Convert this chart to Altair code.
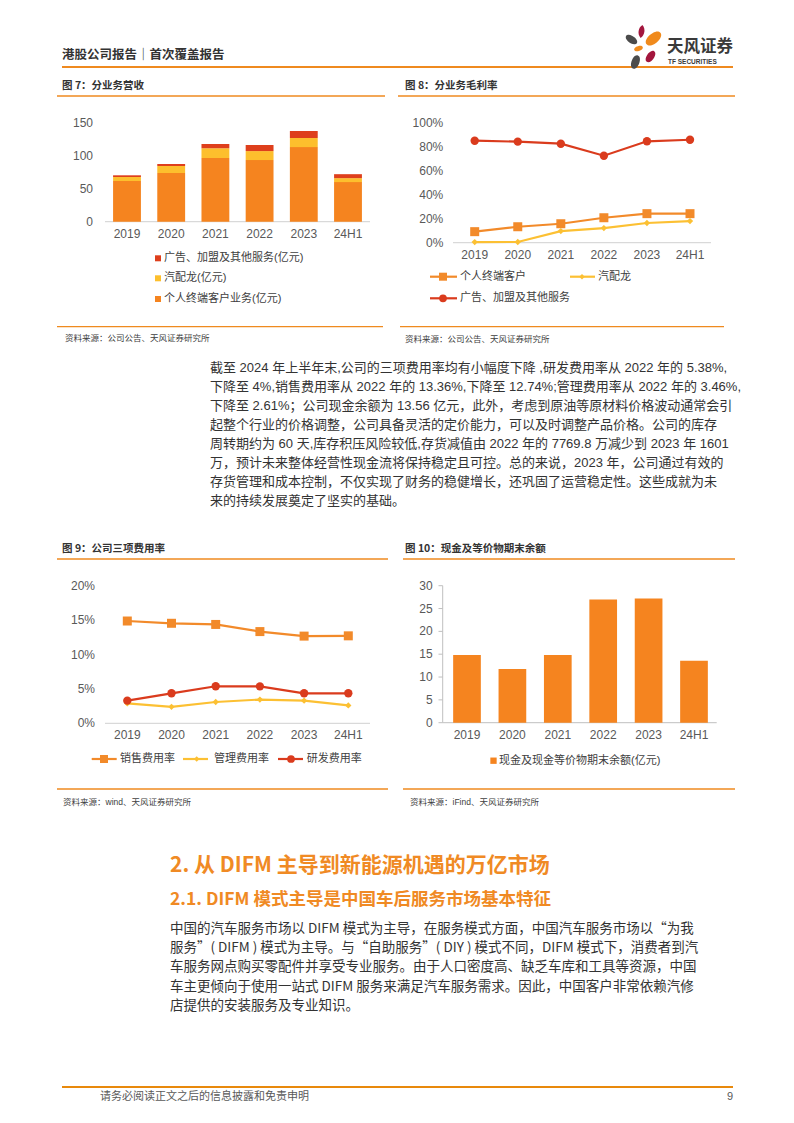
import altair as alt
import pandas as pd

# ---------------- data ----------------
years = ["2019", "2020", "2021", "2022", "2023", "24H1"]

# 图7 分业务营收 (亿元)
rev_names = ["个人终端客户业务(亿元)", "汽配龙(亿元)", "广告、加盟及其他服务(亿元)"]
rev_personal = [61.7, 73.8, 96.5, 93.4, 113.0, 60.0]
rev_qpl = [6.0, 10.6, 14.7, 13.6, 13.8, 6.0]
rev_ads = [2.6, 3.0, 6.5, 9.2, 10.6, 6.0]
rev_ticks = [0, 50, 100, 150]

# 图8 分业务毛利率 (%)
gm_names = ["个人终端客户", "汽配龙", "广告、加盟及其他服务"]
gm_personal = [9.2, 13.3, 15.8, 20.8, 24.2, 24.2]
gm_qpl = [0.5, 0.6, 9.7, 12.2, 16.4, 18.0]
gm_ads = [85.0, 84.2, 82.5, 72.5, 84.5, 85.8]
gm_ticks = [0, 20, 40, 60, 80, 100]

# 图9 公司三项费用率 (%)
exp_names = ["销售费用率", "管理费用率", "研发费用率"]
exp_sales = [14.9, 14.57, 14.4, 13.36, 12.7, 12.74]
exp_admin = [2.9, 2.4, 3.1, 3.46, 3.3, 2.61]
exp_rd = [3.3, 4.37, 5.4, 5.38, 4.37, 4.37]
exp_ticks = [0, 5, 10, 15, 20]

# 图10 现金及等价物期末余额 (亿元)
cash_name = "现金及现金等价物期末余额(亿元)"
cash = [14.8, 11.75, 14.8, 27.0, 27.2, 13.56]
cash_ticks = [0, 5, 10, 15, 20, 25, 30]

para1 = [
    "截至 2024 年上半年末,公司的三项费用率均有小幅度下降 ,研发费用率从 2022 年的 5.38%,",
    "下降至 4%,销售费用率从 2022 年的 13.36%,下降至 12.74%;管理费用率从 2022 年的 3.46%,",
    "下降至 2.61%；公司现金余额为 13.56 亿元，此外，考虑到原油等原材料价格波动通常会引",
    "起整个行业的价格调整，公司具备灵活的定价能力，可以及时调整产品价格。公司的库存",
    "周转期约为 60 天,库存积压风险较低,存货减值由 2022 年的 7769.8 万减少到 2023 年 1601",
    "万，预计未来整体经营性现金流将保持稳定且可控。总的来说，2023 年，公司通过有效的",
    "存货管理和成本控制，不仅实现了财务的稳健增长，还巩固了运营稳定性。这些成就为未",
    "来的持续发展奠定了坚实的基础。",
]
para2 = [
    "中国的汽车服务市场以 DIFM 模式为主导，在服务模式方面，中国汽车服务市场以“为我",
    "服务”( DIFM ) 模式为主导。与“自助服务”( DIY ) 模式不同，DIFM 模式下，消费者到汽",
    "车服务网点购买零配件并享受专业服务。由于人口密度高、缺乏车库和工具等资源，中国",
    "车主更倾向于使用一站式 DIFM 服务来满足汽车服务需求。因此，中国客户非常依赖汽修",
    "店提供的安装服务及专业知识。",
]

# ---------------- styles ----------------
M = 8  # page margin


def px(v):
    return v - M


FONT = "Liberation Sans, Noto Sans CJK SC, sans-serif"
CJK = "Noto Sans CJK SC, sans-serif"
ORANGE = "#F5841F"
YELLOW = "#FDBF2D"
RED = "#DE3F1C"
LORANGE = "#F28A2A"
LYELLOW = "#FCC033"
LRED = "#DA3B1D"
RULE = "#EF8A1F"
AXC = "#595959"
GRID = "#D9D9D9"
TXT = "#333333"
DUMMY = pd.DataFrame({"d": [0]})


def text(x, y, s, size=12, color=TXT, weight="normal", align="left",
         baseline="middle", font=FONT, lineHeight=None):
    kw = dict(text=s, fontSize=size, color=color, fontWeight=weight, align=align,
              baseline=baseline, font=font)
    if lineHeight is not None:
        kw["lineHeight"] = lineHeight
    return alt.Chart(DUMMY).mark_text(**kw).encode(x=alt.value(px(x)), y=alt.value(px(y)))


def hline(x1, x2, y, color, width=1.0):
    return alt.Chart(DUMMY).mark_rule(color=color, strokeWidth=width).encode(
        x=alt.value(px(x1)), x2=alt.value(px(x2)), y=alt.value(px(y)))


def vline(x, y1, y2, color, width=1.0):
    return alt.Chart(DUMMY).mark_rule(color=color, strokeWidth=width).encode(
        x=alt.value(px(x)), y=alt.value(px(y1)), y2=alt.value(px(y2)))


def marker(x, y, shape, size, color):
    return alt.Chart(DUMMY).mark_point(shape=shape, size=size, filled=True, color=color,
                                       opacity=1).encode(x=alt.value(px(x)), y=alt.value(px(y)))


def leaf(x, y, length, angle, color, wide=False):
    path = ("M0,-1C0.75,-1,0.75,1,0,1C-0.75,1,-0.75,-1,0,-1Z" if wide
            else "M0,-1C0.6,-0.5,0.6,0.5,0,1C-0.6,0.5,-0.6,-0.5,0,-1Z")
    return alt.Chart(DUMMY).mark_point(shape=path, size=length * length, filled=True,
                                       color=color, opacity=1, angle=angle % 360).encode(
        x=alt.value(px(x)), y=alt.value(px(y)))


def ylabels(ticks, labels, ysc, xright):
    d = pd.DataFrame({"v": ticks, "label": labels})
    return alt.Chart(d).mark_text(align="right", baseline="middle", fontSize=12,
                                  color=AXC, font=FONT).encode(
        x=alt.value(px(xright)), y=alt.Y("v:Q", scale=ysc, axis=None), text="label:N")


def xlabels(xsc, y):
    d = pd.DataFrame({"year": years})
    return alt.Chart(d).mark_text(align="center", baseline="middle", fontSize=12,
                                  color=AXC, font=FONT).encode(
        x=alt.X("year:N", scale=xsc, axis=None, bandPosition=0.5),
        y=alt.value(px(y)), text="year:N")


def line_series(values, xsc, ysc, color, shape, size):
    d = pd.DataFrame({"year": years, "value": values})
    base = alt.Chart(d).encode(x=alt.X("year:N", scale=xsc, axis=None),
                               y=alt.Y("value:Q", scale=ysc, axis=None))
    return (base.mark_line(color=color, strokeWidth=2.2)
            + base.mark_point(shape=shape, filled=True, size=size, color=color, opacity=1))


# ---------------- 图7 ----------------
sc7x = alt.Scale(type="band", domain=years, range=[px(104.9), px(370.1)],
                 paddingInner=0.37, paddingOuter=0.185)
sc7y = alt.Scale(domain=[0, 150], range=[px(221.7), px(122.7)], nice=False)
df7 = pd.DataFrame({
    "year": years * 3,
    "series": [rev_names[0]] * 6 + [rev_names[1]] * 6 + [rev_names[2]] * 6,
    "value": rev_personal + rev_qpl + rev_ads,
    "ord": [0] * 6 + [1] * 6 + [2] * 6,
})
bars7 = alt.Chart(df7).mark_bar().encode(
    x=alt.X("year:N", scale=sc7x, axis=None),
    y=alt.Y("value:Q", scale=sc7y, axis=None, stack="zero"),
    color=alt.Color("series:N", scale=alt.Scale(domain=rev_names, range=[ORANGE, YELLOW, RED]),
                    legend=None),
    order=alt.Order("ord:Q", sort="ascending"),
)
chart7 = alt.layer(
    hline(105, 370, 221.7, GRID, 1.2),
    bars7,
    ylabels(rev_ticks, [str(t) for t in rev_ticks], sc7y, 93),
    xlabels(sc7x, 234),
    marker(158, 258.3, "square", 36, RED),
    text(164, 258.3, rev_names[2], size=11, color="#404040"),
    marker(158, 278.3, "square", 36, YELLOW),
    text(164, 278.3, rev_names[1], size=11, color="#404040"),
    marker(158, 299, "square", 36, ORANGE),
    text(164, 299, rev_names[0], size=11, color="#404040"),
)

# ---------------- 图8 ----------------
sc8x = alt.Scale(type="point", domain=years, range=[px(474.7), px(690)], padding=0)
sc8y = alt.Scale(domain=[0, 100], range=[px(242.7), px(122.7)], nice=False)
chart8 = alt.layer(
    hline(453, 711, 242.7, GRID, 1.2),
    ylabels(gm_ticks, [f"{t}%" for t in gm_ticks], sc8y, 443.3),
    xlabels(sc8x, 255),
    line_series(gm_personal, sc8x, sc8y, LORANGE, "square", 81),
    line_series(gm_qpl, sc8x, sc8y, LYELLOW, "diamond", 40),
    line_series(gm_ads, sc8x, sc8y, LRED, "circle", 70),
    hline(430, 457, 276.7, LORANGE, 2.2),
    marker(443, 276.7, "square", 64, LORANGE),
    text(460, 276.7, gm_names[0], size=11, color="#404040"),
    hline(570, 595, 276.7, LYELLOW, 2.2),
    marker(582, 276.7, "diamond", 30, LYELLOW),
    text(598, 276.7, gm_names[1], size=11, color="#404040"),
    hline(430, 457, 298.3, LRED, 2.2),
    marker(443, 298.3, "circle", 60, LRED),
    text(460, 298.3, gm_names[2], size=11, color="#404040"),
)

# ---------------- 图9 ----------------
sc9x = alt.Scale(type="point", domain=years, range=[px(127.3), px(348.3)], padding=0)
sc9y = alt.Scale(domain=[0, 20], range=[px(723.3), px(586)], nice=False)
chart9 = alt.layer(
    hline(105, 370, 723.3, GRID, 1.2),
    ylabels(exp_ticks, [f"{t}%" for t in exp_ticks], sc9y, 95),
    xlabels(sc9x, 735),
    line_series(exp_sales, sc9x, sc9y, LORANGE, "square", 81),
    line_series(exp_admin, sc9x, sc9y, LYELLOW, "diamond", 40),
    line_series(exp_rd, sc9x, sc9y, LRED, "circle", 70),
    hline(91.7, 116.7, 759, LORANGE, 2.2),
    marker(104, 759, "square", 64, LORANGE),
    text(120, 759, exp_names[0], size=11, color="#404040"),
    hline(183, 208, 759, LYELLOW, 2.2),
    marker(196.7, 759, "diamond", 30, LYELLOW),
    text(214, 759, exp_names[1], size=11, color="#404040"),
    hline(278, 303, 759, LRED, 2.2),
    marker(291, 759, "circle", 60, LRED),
    text(306.7, 759, exp_names[2], size=11, color="#404040"),
)

# ---------------- 图10 ----------------
sc10x = alt.Scale(type="band", domain=years, range=[px(444.3), px(716.7)],
                  paddingInner=0.39, paddingOuter=0.195)
sc10y = alt.Scale(domain=[0, 30], range=[px(722.7), px(585.7)], nice=False)
df10 = pd.DataFrame({"year": years, "value": cash})
tick10 = pd.DataFrame({"v": cash_ticks})
chart10 = alt.layer(
    alt.Chart(tick10).mark_rule(color="#BFBFBF", strokeWidth=1).encode(
        x=alt.value(px(438.5)), x2=alt.value(px(442.7)),
        y=alt.Y("v:Q", scale=sc10y, axis=None)),
    vline(442.7, 585.7, 722.7, "#BFBFBF", 1),
    hline(442.7, 716.7, 722.7, "#BFBFBF", 1),
    alt.Chart(df10).mark_bar(color=ORANGE).encode(
        x=alt.X("year:N", scale=sc10x, axis=None),
        y=alt.Y("value:Q", scale=sc10y, axis=None)),
    ylabels(cash_ticks, [str(t) for t in cash_ticks], sc10y, 432.7),
    xlabels(sc10x, 735),
    marker(493.5, 760.7, "square", 40, ORANGE),
    text(499, 760.7, cash_name, size=11, color="#404040"),
)

# ---------------- page decorations ----------------
deco = [
    # header
    text(62, 55, "港股公司报告｜首次覆盖报告", size=12.5, weight="bold", color=TXT, font=CJK),
    hline(62, 733, 67, RULE, 2.2),
    leaf(641.5, 31.5, 13, 8, "#A3163D"),
    leaf(653.5, 38.5, 18, 50, "#F08A1C", wide=True),
    leaf(631.5, 39.5, 13, -55, "#4B4B4B", wide=True),
    leaf(638.5, 48.5, 9, 70, "#F08A1C", wide=True),
    leaf(650.5, 56.5, 13, 35, "#A3163D", wide=True),
    leaf(635.5, 62, 14, 20, "#4B4B4B", wide=True),
    text(667, 47, "天风证券", size=16.5, weight="bold", color="#3A3A3A", font=CJK),
    text(668, 61.5, "TF SECURITIES", size=6.5, weight="bold", color="#3A3A3A"),
    # figure titles
    text(62, 86, "图 7：分业务营收", size=10.5, weight="bold", color=TXT, font=CJK),
    hline(57, 385, 96, RULE, 1.3),
    text(405, 86, "图 8：分业务毛利率", size=10.5, weight="bold", color=TXT, font=CJK),
    hline(398, 735, 96, RULE, 1.3),
    text(62, 549, "图 9：公司三项费用率", size=10.5, weight="bold", color=TXT, font=CJK),
    hline(57, 388, 559, RULE, 1.3),
    text(405, 549, "图 10：现金及等价物期末余额", size=10.5, weight="bold", color=TXT, font=CJK),
    hline(403, 735, 559, RULE, 1.3),
    # sources
    hline(57, 383, 326.7, RULE, 1.3),
    text(65, 338, "资料来源：公司公告、天风证券研究所", size=8.5, color="#404040"),
    hline(400, 724, 326.7, RULE, 1.3),
    text(405, 339, "资料来源：公司公告、天风证券研究所", size=8.5, color="#404040"),
    hline(57, 388, 789, RULE, 1.3),
    text(63, 801.5, "资料来源：wind、天风证券研究所", size=8.5, color="#404040"),
    hline(403, 735, 789, RULE, 1.3),
    text(410, 801.5, "资料来源：iFind、天风证券研究所", size=8.5, color="#404040"),
    # paragraph 1
    text(210, 372, para1, size=13, color=TXT, baseline="alphabetic", lineHeight=19),
    # section headings
    text(170, 866, "2. 从 DIFM 主导到新能源机遇的万亿市场", size=21, weight="bold",
         color="#F08A24", font=CJK),
    text(170, 900, "2.1. DIFM 模式主导是中国车后服务市场基本特征", size=17.5, weight="bold",
         color="#F08A24", font=CJK),
    # paragraph 2
    text(170, 933, para2, size=13.5, color=TXT, baseline="alphabetic", lineHeight=19.2,
         font=CJK),
    # footer
    hline(62, 733, 1087, "#E8890C", 2.2),
    text(100, 1097, "请务必阅读正文之后的信息披露和免责申明", size=11, color=AXC),
    text(733, 1097, "9", size=11, color=AXC, align="right"),
]

chart = alt.layer(chart7, chart8, chart9, chart10, *deco).resolve_scale(
    x="independent", y="independent", color="independent"
).properties(
    width=778, height=1100,
    autosize=alt.AutoSizeParams(type="none"),
    padding=0, background="white",
).configure_view(stroke=None)

chart.save("out.html", embed_options={"renderer": "svg", "actions": False})
